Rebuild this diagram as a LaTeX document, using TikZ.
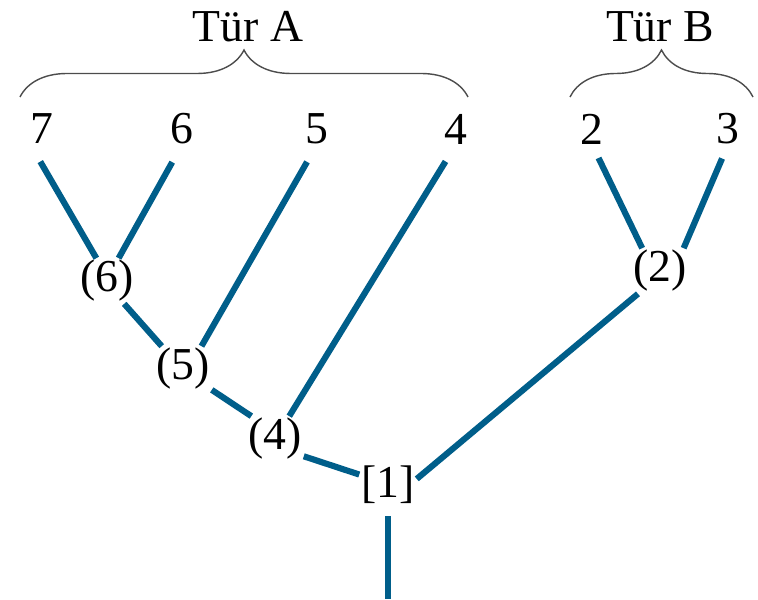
\documentclass[tikz,border=0pt]{standalone}
\usepackage{fontspec}
\setmainfont{Liberation Serif}
\usetikzlibrary{decorations.pathreplacing}
\definecolor{branchblue}{RGB}{0,94,138}
\tikzset{branch/.style={line width=3.5pt,branchblue},
 leaf/.style={inner sep=0pt},
 fork/.style={inner sep=1pt},
 bracket/.style={decorate,decoration={brace,amplitude=0.94cm},line width=0.8pt,black!70},
 every node/.style={font=\fontsize{26}{30}\selectfont}}

\begin{document}
\begin{tikzpicture}
\useasboundingbox (0,0) rectangle (15.16,11.98);
% leaves
\foreach \name/\x in {7/0.84,6/3.64,5/6.34,4/9.12,2/11.84,3/14.56}
 \node[leaf] (d\name) at (\x,9.40) {\name};
% inner nodes
\node[fork] (n6) at (2.14,6.36) {(6)};
\node[fork] (n5) at (3.66,4.60) {(5)};
\node[fork] (n4) at (5.50,3.20) {(4)};
\node[fork] (n2) at (13.20,6.56) {(2)};
\node[fork] (n1) at (7.76,2.28) {[1]};
\coordinate (stem) at (7.78,0);
% groups
\node (tA) at (4.96,11.44) {Tür A};
\node (tB) at (13.20,11.44) {Tür B};
\draw[bracket] (0.40,10.04) -- (9.36,10.04);
\draw[bracket] (11.40,10.04) -- (15.06,10.04);
% branches
\draw[branch,shorten <=0.4cm] (d7.south west) -- (n6.115);
\draw[branch,shorten <=0.4cm] (d6.south) -- (n6.63);
\draw[branch,shorten <=0.4cm] (d5.south) -- (n5.51);
\draw[branch,shorten <=0.4cm] (d4.south) -- (n4.58);
\draw[branch,shorten <=0.3cm] (d2.south) -- (n2.128);
\draw[branch,shorten <=0.3cm] (d3.south) -- (n2.44);
\draw[branch] (n6.307) -- (n5.133);
\draw[branch] (n5.324) -- (n4.136);
\draw[branch] (n4.329) -- (n1.160);
\draw[branch] (n2.226) -- (n1.12);
\draw[branch,shorten <=0.2cm] (n1.south) -- (n1.south |- stem);
\end{tikzpicture}
\end{document}
